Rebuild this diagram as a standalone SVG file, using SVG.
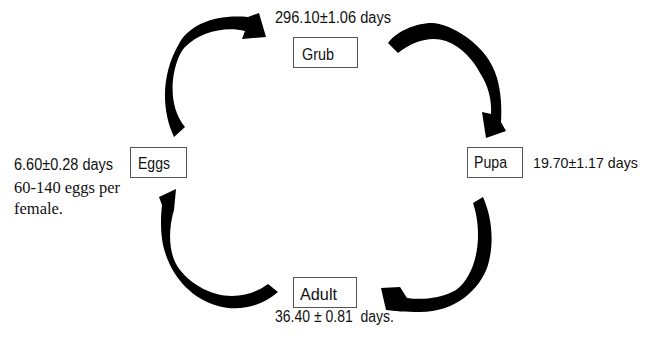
<svg xmlns="http://www.w3.org/2000/svg" width="645" height="338" viewBox="0 0 645 338">
<style>
.box{fill:#fff;stroke:#555;stroke-width:1}
.lbl{font-family:"Liberation Sans",Arial,sans-serif;font-size:16px;fill:#111}
.ser{font-family:"Liberation Serif","Times New Roman",serif;font-size:16.5px;fill:#111}
.arr{fill:#000;stroke:none}
</style>
<rect width="645" height="338" fill="#fff"/>
<g id="connectors">
<path class="arr" d="M174,137 C162,112 160,75 180,42 C190,25 215,14 248,17 L259,13 L266,37 L242,39 L245,31 C225,26 200,32 185,47 C175,57 163,100 185,127 Z"/>
<path class="arr" d="M388,43 C396,32 415,23 432,23 C449,23 488,44 497,78 C501,92 502,108 501,122 L506,131 L486,138 L482,112 L491,114 C492,100 488,85 480,73 C474,61 462,47 446,41 C432,36 414,40 398,53 Z"/>
<path class="arr" d="M483,197 C491,215 495,240 488,265 C480,290 455,312 420,312 C405,312 394,311 386,310 L381,288 L400,287 L407,298 C420,300 440,299 456,290 C470,280 478,258 478,235 C478,222 476,212 473,203 Z"/>
<path class="arr" d="M278,292 C262,306 240,312 218,306 C190,298 170,275 163,245 C160,230 161,214 162,205 L159,197 L176,189 L174,210 C168,230 168,255 180,270 C192,285 212,296 232,296 C248,296 260,290 268,284 Z"/>
</g>
<g id="grub">
<rect class="box" x="293.5" y="37.5" width="64" height="30"/>
<text class="lbl" x="302" y="60" textLength="32" lengthAdjust="spacingAndGlyphs">Grub</text>
<text class="lbl" x="275" y="23" textLength="116" lengthAdjust="spacingAndGlyphs">296.10±1.06 days</text>
</g>
<g id="pupa">
<rect class="box" x="467.5" y="147.5" width="55" height="30"/>
<text class="lbl" x="474" y="168" textLength="33" lengthAdjust="spacingAndGlyphs">Pupa</text>
<text class="lbl" x="533" y="168" style="font-size:14.2px">19.70±1.17 days</text>
</g>
<g id="eggs">
<rect class="box" x="130.5" y="147.5" width="56" height="30"/>
<text class="lbl" x="138" y="169" textLength="32" lengthAdjust="spacingAndGlyphs">Eggs</text>
<text class="lbl" x="14" y="170" textLength="99" lengthAdjust="spacingAndGlyphs">6.60±0.28 days</text>
<text class="ser" x="14" y="193" textLength="106" lengthAdjust="spacingAndGlyphs">60-140 eggs per</text>
<text class="ser" x="14" y="214" textLength="49" lengthAdjust="spacingAndGlyphs">female.</text>
</g>
<g id="adult">
<rect class="box" x="293.5" y="277.5" width="63" height="30"/>
<text class="lbl" x="300" y="300" textLength="37" lengthAdjust="spacingAndGlyphs">Adult</text>
<text class="lbl" x="275" y="322" textLength="119" lengthAdjust="spacingAndGlyphs" xml:space="preserve">36.40 ± 0.81  days.</text>
</g>
</svg>
